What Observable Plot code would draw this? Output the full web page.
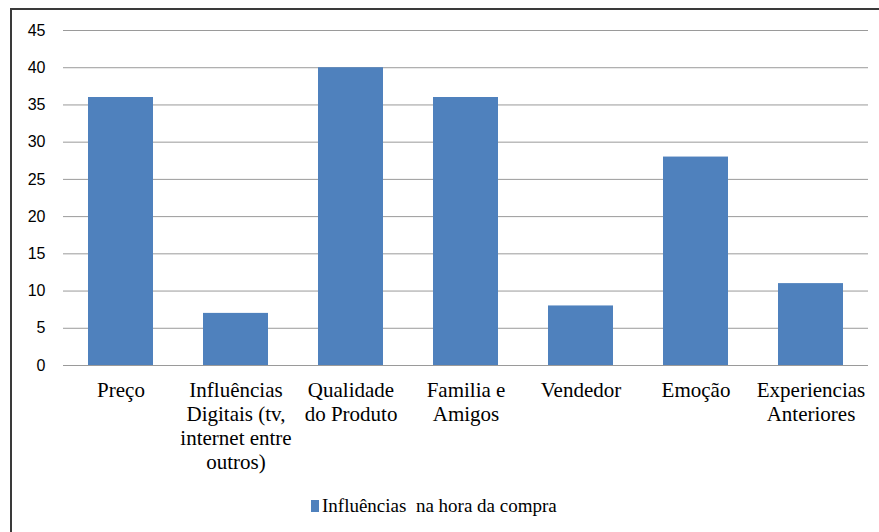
<!DOCTYPE html>
<html>
<head>
<meta charset="utf-8">
<script src="https://cdn.jsdelivr.net/npm/d3@7"></script>
<script src="https://cdn.jsdelivr.net/npm/@observablehq/plot@0.6"></script>
<style>
  body { margin: 0; background: #fff; }
  #wrap { position: relative; width: 879px; height: 532px; overflow: hidden; }
  #frame { position: absolute; left: 10px; top: 8px; width: 900px; height: 600px; border-left: 2px solid #3a3a3a; border-top: 2px solid #3a3a3a; box-sizing: border-box; pointer-events: none; }
  #chart { position: absolute; left: 0; top: 0; }
  #legend { position: absolute; left: 311px; top: 495px; font-family: 'Liberation Serif', serif; font-size: 19px; line-height: 21px; color: #000; white-space: pre; }
  #legend .sw { display: inline-block; width: 8px; height: 12px; background: #4F81BD; margin-right: 3px; vertical-align: 0px; }
</style>
</head>
<body>
<div id="wrap">
  <div id="chart"></div>
  <div id="frame"></div>
  <div id="legend"><span class="sw"></span><span id="legtext"></span></div>
</div>
<script>
const categories = [
  "Preço",
  "Influências\nDigitais (tv,\ninternet entre\noutros)",
  "Qualidade\ndo Produto",
  "Familia e\nAmigos",
  "Vendedor",
  "Emoção",
  "Experiencias\nAnteriores"
];
const values = [36, 7, 40, 36, 8, 28, 11];
const yTicks = [0, 5, 10, 15, 20, 25, 30, 35, 40, 45];
const seriesName = "Influências  na hora da compra";

document.getElementById("legtext").textContent = seriesName;

const data = categories.map((c, i) => ({category: c, value: values[i]}));
const serif = "Liberation Serif";
const sans = "Liberation Sans";

const chart = Plot.plot({
  width: 879,
  height: 480,
  marginTop: 30,
  marginBottom: 115,
  marginLeft: 63,
  marginRight: 11,
  style: {fontFamily: serif, fontSize: "21px", color: "#000", background: "transparent"},
  x: {domain: categories, paddingInner: 0.435, paddingOuter: 0.2175, label: null},
  y: {domain: [0, 45], ticks: yTicks, label: null},
  marks: [
    Plot.gridY(yTicks, {stroke: "#9a9a9a", strokeOpacity: 1, strokeWidth: 1}),
    Plot.barY(data, {x: "category", y: "value", fill: "#4F81BD"}),
    Plot.axisY(yTicks, {tickSize: 0, tickPadding: 18, fontSize: 16, fontFamily: sans, label: null}),
    Plot.axisX({tickSize: 0, tickPadding: 15, fontSize: 21, fontFamily: serif, lineHeight: 1.13, label: null})
  ]
});
document.getElementById("chart").appendChild(chart);
</script>
</body>
</html>
